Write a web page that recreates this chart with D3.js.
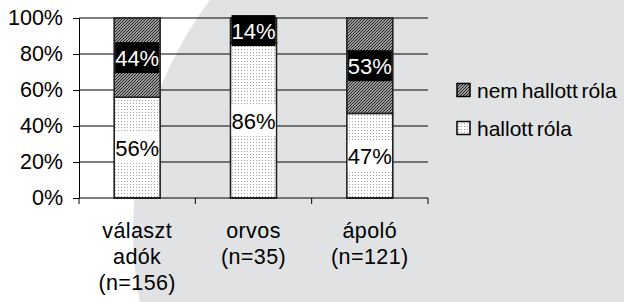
<!DOCTYPE html>
<html>
<head>
<meta charset="utf-8">
<script src="https://cdn.jsdelivr.net/npm/d3@7"></script>
<style>
  body { margin: 0; }
  text { font-family: "Liberation Sans", Arial, sans-serif; }
</style>
</head>
<body>
<svg id="canvas" width="624" height="302"></svg>
<script>
// chart data
let categories = ['választ adók (n=156)', 'orvos (n=35)', 'ápoló (n=121)'];
let categoryLines = [['választ', 'adók', '(n=156)'], ['orvos', '(n=35)'], ['ápoló', '(n=121)']];
let heard = [56, 86, 47];      // hallott róla
let notHeard = [44, 14, 53];   // nem hallott róla
let seriesNames = ['hallott róla', 'nem hallott róla'];
let yTicks = [0, 20, 40, 60, 80, 100];

let canvas = d3.select('#canvas');

// slide background: white with a big grey disc
canvas.append('rect').attr('width', 624).attr('height', 302).attr('fill', '#ffffff');
canvas.append('circle').attr('cx', 515).attr('cy', 230).attr('r', 382).attr('fill', '#e1e2e4');

let defs = canvas.append('defs');

let hatch = defs.append('pattern')
    .attr('id', 'hatch')
    .attr('patternUnits', 'userSpaceOnUse')
    .attr('width', 3).attr('height', 3);
hatch.append('rect').attr('width', 3).attr('height', 3).attr('fill', '#fff');
hatch.append('path')
    .attr('d', 'M0,3 L3,0 M-1,1 L1,-1 M2,4 L4,2')
    .attr('stroke', '#222').attr('stroke-width', 1.3);

let dots = defs.append('pattern')
    .attr('id', 'dots')
    .attr('patternUnits', 'userSpaceOnUse')
    .attr('width', 3).attr('height', 3);
dots.append('rect').attr('width', 3).attr('height', 3).attr('fill', '#fff');
dots.append('rect').attr('x', 1).attr('y', 1).attr('width', 1).attr('height', 1).attr('fill', '#a0a0a0');

let plotLeft = 79, plotRight = 428, plotTop = 18, plotBottom = 198;

let x = d3.scaleBand()
    .domain(categories)
    .range([plotLeft, plotRight])
    .paddingInner(0.605)
    .paddingOuter(0.3025);

let y = d3.scaleLinear()
    .domain([0, 100])
    .range([plotBottom, plotTop]);

// gridlines
canvas.append('g')
    .selectAll('line')
    .data(yTicks.filter(d => d > 0))
    .enter()
    .append('line')
    .attr('x1', plotLeft).attr('x2', plotRight)
    .attr('y1', d => y(d)).attr('y2', d => y(d))
    .attr('stroke', '#000').attr('stroke-width', 1);

// y axis
let yAxis = d3.axisLeft(y)
    .tickValues(yTicks)
    .tickFormat(d => d + '%')
    .tickSize(6)
    .tickPadding(10);

let yG = canvas.append('g')
    .attr('transform', `translate(${plotLeft},0)`)
    .call(yAxis);
yG.select('.domain').attr('stroke', '#000');
yG.selectAll('.tick line').attr('stroke', '#000');
yG.selectAll('text')
    .attr('fill', '#000')
    .style('font-size', '21.5px')
    .style('font-family', '"Liberation Sans", Arial, sans-serif');

// stacked bars
let rows = categories.map((c, i) => ({ cat: c, heard: heard[i], notHeard: notHeard[i] }));
let stacked = d3.stack().keys(['heard', 'notHeard'])(rows);
let fills = { heard: 'url(#dots)', notHeard: 'url(#hatch)' };

stacked.forEach(layer => {
    canvas.append('g')
        .selectAll('rect')
        .data(layer)
        .enter()
        .append('rect')
        .attr('x', d => x(d.data.cat))
        .attr('y', d => y(d[1]))
        .attr('width', x.bandwidth())
        .attr('height', d => y(d[0]) - y(d[1]))
        .attr('fill', fills[layer.key])
        .attr('stroke', '#222')
        .attr('stroke-width', 1.6);
});

// value labels
stacked.forEach(layer => {
    let dark = layer.key === 'notHeard';
    let lab = canvas.append('g')
        .selectAll('g')
        .data(layer)
        .enter()
        .append('g')
        .attr('transform', d => `translate(${x(d.data.cat) + x.bandwidth() / 2},${(y(d[0]) + y(d[1])) / 2})`);
    lab.append('rect')
        .attr('x', -x.bandwidth() / 2 + 1)
        .attr('y', -15.5)
        .attr('width', x.bandwidth() - 2)
        .attr('height', 31)
        .attr('fill', dark ? '#000' : '#fff');
    lab.append('text')
        .text(d => (d[1] - d[0]) + '%')
        .attr('text-anchor', 'middle')
        .attr('y', 8)
        .attr('fill', dark ? '#fff' : '#000')
        .style('font-size', '22px');
});

// x axis
canvas.append('line')
    .attr('x1', plotLeft).attr('x2', plotRight)
    .attr('y1', plotBottom).attr('y2', plotBottom)
    .attr('stroke', '#000');
canvas.append('g')
    .selectAll('line')
    .data(d3.range(categories.length + 1))
    .enter()
    .append('line')
    .attr('x1', i => plotLeft + i * x.step()).attr('x2', i => plotLeft + i * x.step())
    .attr('y1', plotBottom).attr('y2', plotBottom + 6)
    .attr('stroke', '#000');

let catLabel = canvas.append('g')
    .selectAll('text')
    .data(categories)
    .enter()
    .append('text')
    .attr('text-anchor', 'middle')
    .attr('x', d => x(d) + x.bandwidth() / 2)
    .attr('y', 238)
    .attr('fill', '#000')
    .style('font-size', '21.5px')
    .style('letter-spacing', '0.4px');
catLabel.selectAll('tspan')
    .data((d, i) => categoryLines[i])
    .enter()
    .append('tspan')
    .attr('x', function () { return d3.select(this.parentNode).attr('x'); })
    .attr('dy', (d, i) => i === 0 ? 0 : 26)
    .text(d => d);

// legend
let legendData = [
    { name: seriesNames[1], fill: 'url(#hatch)' },
    { name: seriesNames[0], fill: 'url(#dots)' }
];
let legendGroup = canvas.append('g')
    .selectAll('g')
    .data(legendData)
    .enter()
    .append('g')
    .attr('transform', (d, i) => `translate(457, ${90 + i * 38})`);
legendGroup.append('rect')
    .attr('x', 0).attr('y', -6.5)
    .attr('width', 13).attr('height', 13)
    .attr('fill', d => d.fill)
    .attr('stroke', '#000').attr('stroke-width', 1.5);
legendGroup.append('text')
    .text(d => d.name)
    .attr('x', 20)
    .attr('y', 7.5)
    .attr('fill', '#000')
    .style('font-size', '21px')
    .style('word-spacing', '-2px');
</script>
</body>
</html>
